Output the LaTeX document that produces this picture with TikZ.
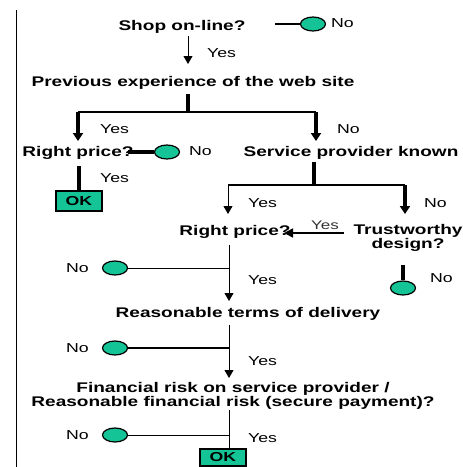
\documentclass[tikz,border=0pt]{standalone}
\usepackage{fontspec}
\setmainfont{Liberation Sans}
\usetikzlibrary{arrows.meta,shapes.geometric}
\definecolor{mint}{RGB}{20,196,150}
% Arial-like text, stretched sideways
\newcommand\sx[1]{\scalebox{1.36}[1]{#1}}
\begin{document}
\begin{tikzpicture}[x=1pt,y=-1pt,
  q/.style={font=\fontsize{14}{13}\selectfont\bfseries, inner sep=0pt, align=center},
  ans/.style={font=\fontsize{13}{13}\selectfont, inner sep=0pt, anchor=west},
  stopdot/.style={ellipse, draw, fill=mint, line width=1.2pt, minimum width=25pt, minimum height=14pt, inner sep=0pt},
  okbox/.style={draw, fill=mint, line width=2pt, minimum width=46pt, minimum height=20pt, inner sep=0pt, font=\fontsize{13}{13}\selectfont\bfseries},
  lnthin/.style={line width=1pt},
  lnmed/.style={line width=2pt},
  lnthick/.style={line width=3.5pt},
  arrthin/.style={line width=1pt, -{Triangle[width=9pt,length=8pt]}},
  arrthick/.style={line width=3.5pt, -{Triangle[width=10pt,length=8pt]}},
]
\clip (0,0) rectangle (463,467);
\fill[white] (0,0) rectangle (463,467);

% left margin rule
\draw[line width=1.5pt] (16.5,10) -- (16.5,470);

% --- first question
\node[q] (shop) at (182,27) {\sx{Shop on-line?}};
\node[stopdot] (c0) at (313,24) {};
\coordinate (c0w) at (275,24);
\draw[lnmed] (c0w) -- (c0);
\node[ans] at (331,23) {\sx{No}};
\coordinate (a0s) at (188,36);
\coordinate (a0e) at (188,64);
\draw[arrthin] (a0s) -- (a0e);
\node[ans] at (207,53) {\sx{Yes}};

% --- previous experience
\node[q] (prev) at (193,83) {\sx{Previous experience of the web site}};
\coordinate (t1) at (188,94);
\coordinate (j1) at (188,112);
\coordinate (l1) at (78,112);
\coordinate (r1) at (316,112);
\coordinate (l1e) at (78,141);
\coordinate (r1e) at (316,141);
\draw[lnthick] (t1) -- (j1);
\draw[lnmed] (l1) -- (r1);
\draw[arrthick] (l1) -- (l1e);
\draw[arrthick] (r1) -- (r1e);
\node[ans] at (100,129) {\sx{Yes}};
\node[ans] at (337,129) {\sx{No}};

% --- left branch
\node[q] (rp1) at (78,153) {\sx{Right price?}};
\node[stopdot] (c1) at (167,152) {};
\coordinate (rp1e) at (128,152);
\draw[lnthick] (rp1e) -- (c1);
\node[ans] at (189,151) {\sx{No}};
\node[okbox] (ok1) at (79,201) {\sx{OK}};
\coordinate (rp1s) at (79,166);
\draw[lnthick] (rp1s) -- (ok1.north);
\node[ans] at (100,178) {\sx{Yes}};

% --- right branch
\node[q] (spk) at (351,153) {\sx{Service provider known}};
\coordinate (t2) at (314,162);
\coordinate (j2) at (314,185);
\coordinate (l2) at (228,185);
\coordinate (r2) at (405,185);
\coordinate (l2e) at (228,214);
\coordinate (r2e) at (405,214);
\draw[lnthick] (t2) -- (j2);
\draw[lnmed] (l2) -- (r2);
\draw[arrthin] (l2) -- (l2e);
\draw[arrthick] (r2) -- (r2e);
\node[ans] at (248,203) {\sx{Yes}};
\node[ans] at (424,203) {\sx{No}};

\node[q] (rp2) at (235,232) {\sx{Right price?}};
\node[q] (trust) at (408,238) {\sx{Trustworthy}\\\sx{design?}};
\coordinate (ty) at (344,233);
\coordinate (tye) at (284,233);
\draw[line width=1.5pt, -{Triangle[width=9pt,length=9pt]}] (ty) -- (tye);
\node[ans, font=\fontsize{12.5}{12}\selectfont, text=black!80] at (311,225) {\sx{Yes}};

% trustworthy: no
\coordinate (tn) at (403,265);
\node[stopdot] (c3) at (403,288) {};
\draw[lnthick] (tn) -- (c3.north);
\node[ans] at (430,278) {\sx{No}};

% right price (2)
\coordinate (rp2s) at (229,245);
\coordinate (rp2e) at (229,301);
\draw[arrthin] (rp2s) -- (rp2e);
\node[stopdot] (c2) at (115,268) {};
\coordinate (k2) at (229,268);
\draw[lnthin] (c2) -- (k2);
\node[ans] at (66,268) {\sx{No}};
\node[ans] at (248,280) {\sx{Yes}};

% delivery
\node[q] (terms) at (248,314) {\sx{Reasonable terms of delivery}};
\coordinate (tds) at (229,325);
\coordinate (tde) at (229,378);
\draw[arrthin] (tds) -- (tde);
\node[stopdot] (c4) at (115,348) {};
\coordinate (k4) at (229,348);
\draw[lnmed] (c4) -- (k4);
\node[ans] at (66,348) {\sx{No}};
\node[ans] at (248,361) {\sx{Yes}};

% financial risk
\node[q] (fin) at (233,396) {\sx{Financial risk on service provider /}\\\sx{Reasonable financial risk (secure payment)?}};
\node[okbox, minimum height=17pt] (ok2) at (223,457.5) {\sx{OK}};
\coordinate (fns) at (229,410);
\draw[lnthin] (fns) -- (fns |- ok2.north);
\node[stopdot] (c5) at (115,435) {};
\coordinate (k5) at (229,435);
\draw[lnthin] (c5) -- (k5);
\node[ans] at (66,435) {\sx{No}};
\node[ans] at (248,438) {\sx{Yes}};
\end{tikzpicture}
\end{document}
